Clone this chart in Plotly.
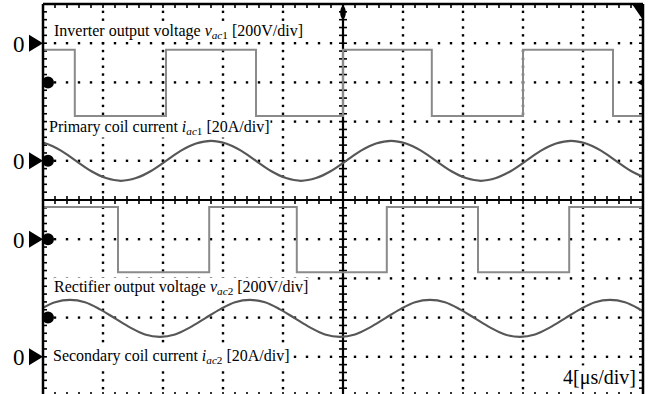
import numpy as np
import plotly.graph_objects as go

# ---------------- data (oscilloscope divisions) ----------------
# Inverter output voltage v_ac1 (square wave): transition times and levels
v_ac1_t = [0.0, 0.53, 2.05, 3.55, 5.0, 6.48, 8.0, 9.5, 10.0]
v_ac1_v = [3.83, 2.14, 3.83, 2.14, 3.83, 2.14, 3.83, 2.14, 2.14]

# Primary coil current i_ac1 (sampled every 0.25 div)
i_ac1_t = [-0.2, 0.05, 0.3, 0.55, 0.8, 1.05, 1.3, 1.55, 1.8, 2.05, 2.3, 2.55,
           2.8, 3.05, 3.3, 3.55, 3.8, 4.05, 4.3, 4.55, 4.8, 5.05, 5.3, 5.55,
           5.8, 6.05, 6.3, 6.55, 6.8, 7.05, 7.3, 7.55, 7.8, 8.05, 8.3, 8.55,
           8.8, 9.05, 9.3, 9.55, 9.8, 10.05]
i_ac1_v = [1.51, 1.44, 1.26, 1.00, 0.74, 0.56, 0.49, 0.56, 0.74, 1.00, 1.26, 1.44,
           1.51, 1.44, 1.26, 1.00, 0.74, 0.56, 0.49, 0.56, 0.74, 1.00, 1.26, 1.44,
           1.51, 1.44, 1.26, 1.00, 0.74, 0.56, 0.49, 0.56, 0.74, 1.00, 1.26, 1.44,
           1.51, 1.44, 1.26, 1.00, 0.74, 0.56]

# Rectifier output voltage v_ac2 (square wave)
v_ac2_t = [0.0, 1.25, 2.77, 4.23, 5.73, 7.25, 8.77, 10.0]
v_ac2_v = [-0.18, -1.84, -0.18, -1.84, -0.18, -1.84, -0.18, -0.18]

# Secondary coil current i_ac2 (sampled every 0.25 div)
i_ac2_t = [-0.3, -0.05, 0.2, 0.45, 0.7, 0.95, 1.2, 1.45, 1.7, 1.95, 2.2, 2.45,
           2.7, 2.95, 3.2, 3.45, 3.7, 3.95, 4.2, 4.45, 4.7, 4.95, 5.2, 5.45,
           5.7, 5.95, 6.2, 6.45, 6.7, 6.95, 7.2, 7.45, 7.7, 7.95, 8.2, 8.45,
           8.7, 8.95, 9.2, 9.45, 9.7, 9.95, 10.2]
i_ac2_v = [-3.02, -2.79, -2.61, -2.55, -2.61, -2.79, -3.02, -3.25, -3.43, -3.49, -3.43, -3.25,
           -3.02, -2.79, -2.61, -2.55, -2.61, -2.79, -3.02, -3.25, -3.43, -3.49, -3.43, -3.25,
           -3.02, -2.79, -2.61, -2.55, -2.61, -2.79, -3.02, -3.25, -3.43, -3.49, -3.43, -3.25,
           -3.02, -2.79, -2.61, -2.55, -2.61, -2.79, -3.02]

# channel zero markers ("0 ▶") and channel reference blobs
zero_levels = [4.0, 1.0, -1.0, -4.0]
ref_levels = [3.0, 1.0, -1.0, -3.0]

label_texts = [
    "Inverter output voltage <i>v</i><sub><i>ac</i>1</sub> [200V/div]",
    "Primary coil current <i>i</i><sub><i>ac</i>1</sub> [20A/div]",
    "Rectifier output voltage <i>v</i><sub><i>ac</i>2</sub> [200V/div]",
    "Secondary coil current <i>i</i><sub><i>ac</i>2</sub> [20A/div]",
]
label_x = [0.17, 0.09, 0.16, 0.15]
label_y = [4.31, 1.84, -2.22, -4.0]
time_label = "4[\u03bcs/div]"

# ---------------- geometry ----------------
W, H = 653, 394
ML, MR, MT, MB = 43, 10, 4, 0
PW, PH = W - ML - MR, H - MT - MB
X_RANGE = [0, 10]
Y_TOP = 5.0
PX_PER_DIV_Y = 39.2
Y_RANGE = [Y_TOP - PH / PX_PER_DIV_Y, Y_TOP]
PX_PER_DIV_X = PW / (X_RANGE[1] - X_RANGE[0])


def dx(px):
    return px / PX_PER_DIV_X


def dy(px):
    return px / PX_PER_DIV_Y


def py(v):  # data y -> paper y
    return (v - Y_RANGE[0]) / (Y_RANGE[1] - Y_RANGE[0])


SERIF = "Liberation Serif, Times New Roman, serif"

fig = go.Figure()

# dotted graticule
sub = np.round(np.arange(0, 10.0001, 0.2), 3)
subv = np.round(np.arange(-5, 5.0001, 0.2), 3)
gx, gy = [], []
for r in [-4, -3, -2, -1, 1, 2, 3, 4]:
    gx += list(sub)
    gy += [r] * len(sub)
for c in [1, 2, 3, 4, 6, 7, 8, 9]:
    gx += [c] * len(subv)
    gy += list(subv)
fig.add_trace(go.Scatter(x=gx, y=gy, mode="markers", hoverinfo="skip",
                         marker=dict(symbol="square", size=2.4, color="black"),
                         showlegend=False))

# tick marks on border and centre axes
tx, ty = [], []
for v in subv:
    tx += [0, dx(4), None, 10 - dx(4), 10, None, 5 - dx(4), 5 + dx(4), None]
    ty += [v, v, None, v, v, None, v, v, None]
for u in sub:
    tx += [u, u, None, u, u, None, u, u, None]
    ty += [Y_TOP, Y_TOP - dy(4), None, -5, -5 + dy(4), None, -dy(4), dy(4), None]
fig.add_trace(go.Scatter(x=tx, y=ty, mode="lines", hoverinfo="skip",
                         line=dict(color="black", width=1.6), showlegend=False))

# waveforms
SQ = dict(color="#8a8a8a", width=2)
SN = dict(color="#575757", width=2.2, shape="spline", smoothing=1.0)
fig.add_trace(go.Scatter(x=v_ac1_t, y=v_ac1_v, mode="lines",
                         line=dict(shape="hv", **SQ), showlegend=False))
fig.add_trace(go.Scatter(x=i_ac1_t, y=i_ac1_v, mode="lines", line=SN, showlegend=False))
fig.add_trace(go.Scatter(x=v_ac2_t, y=v_ac2_v, mode="lines",
                         line=dict(shape="hv", **SQ), showlegend=False))
fig.add_trace(go.Scatter(x=i_ac2_t, y=i_ac2_v, mode="lines", line=SN, showlegend=False))

# channel reference blobs on the left edge
fig.add_trace(go.Scatter(x=[dx(5)] * len(ref_levels), y=ref_levels, mode="markers",
                         marker=dict(symbol="circle", size=12, color="black"),
                         showlegend=False, hoverinfo="skip"))

shapes = [
    # frame (left, top, right)
    dict(type="line", xref="paper", yref="paper", x0=0, x1=0, y0=0, y1=1,
         line=dict(color="black", width=2.5)),
    dict(type="line", xref="paper", yref="paper", x0=0, x1=1, y0=1, y1=1,
         line=dict(color="black", width=2.5)),
    dict(type="line", xref="paper", yref="paper", x0=1, x1=1, y0=0, y1=1,
         line=dict(color="black", width=2.5)),
    # centre axes
    dict(type="line", xref="x", yref="y", x0=5, x1=5, y0=-5, y1=5,
         line=dict(color="black", width=2.2), layer="below"),
    dict(type="line", xref="x", yref="y", x0=0, x1=10, y0=0, y1=0,
         line=dict(color="black", width=2.2), layer="below"),
    # trigger position marker (top centre)
    dict(type="circle", xref="x", yref="y", x0=5 - dx(2.8), x1=5 + dx(2.8),
         y0=Y_TOP - dy(15), y1=Y_TOP - dy(2), fillcolor="black", line=dict(width=0)),
    # trigger level marker (top right corner)
    dict(type="path", xref="x", yref="y",
         path=f"M {10 - dx(11):.4f},{Y_TOP} L 10,{Y_TOP} L 10,{Y_TOP - dy(16):.4f} Z",
         fillcolor="black", line=dict(width=0)),
]

# small marker on right edge at ch1 reference level
pr = py(ref_levels[0])
hy = 3.5 / PH
shapes.append(dict(type="path", xref="paper", yref="paper",
                   path=f"M {1 - 6 / PW:.5f},{pr:.5f} L 1,{pr + hy:.5f} L 1,{pr - hy:.5f} Z",
                   fillcolor="black", line=dict(width=0)))

# zero arrows (outside the plot area, left of the frame)
aw, ah = 14 / PW, 8.5 / PH
for z in zero_levels:
    p = py(z)
    shapes.append(dict(type="path", xref="paper", yref="paper",
                       path=f"M {-aw:.5f},{p + ah:.5f} L 0,{p:.5f} L {-aw:.5f},{p - ah:.5f} Z",
                       fillcolor="black", line=dict(width=0)))

annotations = []
for z in zero_levels:
    annotations.append(dict(x=-24 / PW, y=py(z), xref="paper", yref="paper", text="0",
                            showarrow=False, xanchor="center", yanchor="middle", yshift=-1,
                            font=dict(family=SERIF, size=23, color="black")))
for t, x, y in zip(label_texts, label_x, label_y):
    annotations.append(dict(x=x, y=y, xref="x", yref="y", text=t, showarrow=False,
                            xanchor="left", yanchor="middle", bgcolor="white", borderpad=0,
                            font=dict(family=SERIF, size=16, color="black")))
annotations.append(dict(x=9.9, y=-4.54, xref="x", yref="y", text=time_label, showarrow=False,
                        xanchor="right", yanchor="middle", bgcolor="white", borderpad=0,
                        font=dict(family=SERIF, size=20, color="black")))

fig.update_layout(
    width=W, height=H,
    margin=dict(l=ML, r=MR, t=MT, b=MB, pad=0),
    paper_bgcolor="white", plot_bgcolor="white",
    xaxis=dict(range=X_RANGE, visible=False, fixedrange=True),
    yaxis=dict(range=Y_RANGE, visible=False, fixedrange=True),
    shapes=shapes, annotations=annotations, showlegend=False,
)
fig.write_html("out.html")
